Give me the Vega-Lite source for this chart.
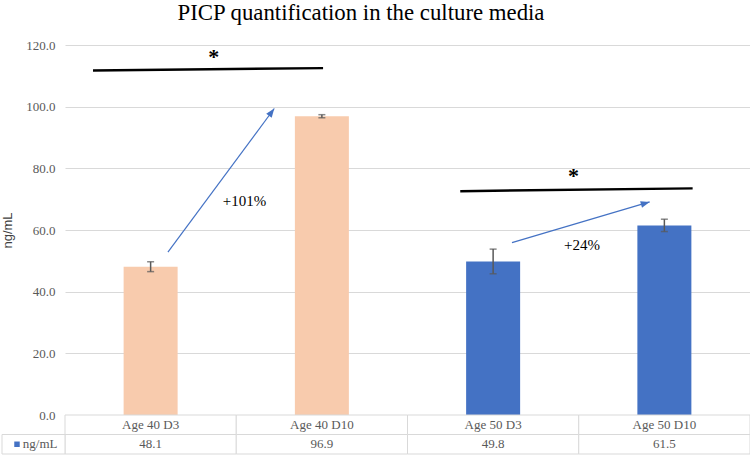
{
  "$schema": "https://vega.github.io/schema/vega-lite/v6.json",
  "padding": {"left": 1, "top": 2, "right": 2, "bottom": 1},
  "background": "white",
  "title": {"text": "PICP quantification in the culture media", "font": "Liberation Serif", "fontSize": 22.8, "fontWeight": "normal", "color": "#000000", "anchor": "start", "dx": 176, "offset": 14},
  "config": {"view": {"stroke": null}},
  "datasets": {
    "bars": [
      {"cat": "Age 40 D3", "age": "Age 40", "value": 48.1, "err": 1.6},
      {"cat": "Age 40 D10", "age": "Age 40", "value": 96.9, "err": 0.5},
      {"cat": "Age 50 D3", "age": "Age 50", "value": 49.8, "err": 4.0},
      {"cat": "Age 50 D10", "age": "Age 50", "value": 61.5, "err": 2.0}
    ],
    "lines": [
      {"x1": 0.1635, "y1": 111.7, "x2": 1.507, "y2": 112.5},
      {"x1": 2.308, "y1": 72.6, "x2": 3.665, "y2": 73.5}
    ],
    "arrows": [
      {"id": "a1", "x1": 0.601, "y1": 52.8, "x2": 1.222, "y2": 99.4},
      {"id": "a2", "x1": 2.610, "y1": 55.9, "x2": 3.414, "y2": 69.1}
    ],
    "stars": [
      {"x": 0.868, "y": 116.4},
      {"x": 2.970, "y": 77.8}
    ],
    "pct": [
      {"x": 1.048, "y": 69.3, "label": "+101%"},
      {"x": 3.019, "y": 55.2, "label": "+24%"}
    ],
    "legend": [{"label": "ng/mL"}]
  },
  "bounds": "flush",
  "spacing": 0,
  "vconcat": [
    {
      "width": 685,
      "height": 370,
      "resolve": {"scale": {"x": "independent"}},
      "layer": [
        {
          "data": {"name": "bars"},
          "mark": {"type": "bar", "width": 54},
          "encoding": {
            "x": {"field": "cat", "type": "nominal", "sort": null, "scale": {"paddingInner": 0, "paddingOuter": 0}, "axis": null},
            "y": {"field": "value", "type": "quantitative", "title": "ng/mL", "scale": {"domain": [0, 120], "nice": false},
              "axis": {"values": [0, 20, 40, 60, 80, 100, 120], "format": ".1f", "labelFont": "Liberation Serif", "labelFontSize": 13, "labelColor": "#595959", "labelPadding": 10, "domain": false, "ticks": false, "gridColor": "#D9D9D9", "titleFont": "Liberation Sans", "titleFontSize": 13, "titleFontWeight": "normal", "titleColor": "#404040", "titlePadding": 11}},
            "color": {"field": "age", "type": "nominal", "scale": {"domain": ["Age 40", "Age 50"], "range": ["#F8CBAD", "#4472C4"]}, "legend": null}
          }
        },
        {
          "data": {"name": "bars"},
          "mark": {"type": "errorbar", "color": "#595959", "thickness": 1.5, "ticks": {"size": 7}},
          "encoding": {
            "x": {"field": "cat", "type": "nominal", "sort": null, "scale": {"paddingInner": 0, "paddingOuter": 0}, "axis": null},
            "y": {"field": "value", "type": "quantitative", "title": "ng/mL"},
            "yError": {"field": "err"}
          }
        },
        {
          "data": {"name": "lines"},
          "mark": {"type": "rule", "strokeWidth": 2.5, "color": "#000000"},
          "encoding": {
            "x": {"field": "x1", "type": "quantitative", "scale": {"domain": [0, 4], "nice": false, "zero": false}, "axis": null},
            "x2": {"field": "x2"},
            "y": {"field": "y1", "type": "quantitative", "title": "ng/mL"},
            "y2": {"field": "y2"}
          }
        },
        {
          "data": {"name": "arrows"},
          "mark": {"type": "rule", "strokeWidth": 1.2, "color": "#4472C4"},
          "encoding": {
            "x": {"field": "x1", "type": "quantitative", "scale": {"domain": [0, 4], "nice": false, "zero": false}, "axis": null},
            "x2": {"field": "x2"},
            "y": {"field": "y1", "type": "quantitative", "title": "ng/mL"},
            "y2": {"field": "y2"}
          }
        },
        {
          "data": {"name": "arrows"},
          "transform": [{"filter": "datum.id === 'a1'"}],
          "mark": {"type": "point", "shape": "M0,0L-0.38,1L0.38,1Z", "filled": true, "opacity": 1, "color": "#4472C4", "size": 320, "angle": 36.4},
          "encoding": {
            "x": {"field": "x2", "type": "quantitative", "scale": {"domain": [0, 4], "nice": false, "zero": false}, "axis": null},
            "y": {"field": "y2", "type": "quantitative", "title": "ng/mL"}
          }
        },
        {
          "data": {"name": "arrows"},
          "transform": [{"filter": "datum.id === 'a2'"}],
          "mark": {"type": "point", "shape": "M0,0L-0.38,1L0.38,1Z", "filled": true, "opacity": 1, "color": "#4472C4", "size": 320, "angle": 73.6},
          "encoding": {
            "x": {"field": "x2", "type": "quantitative", "scale": {"domain": [0, 4], "nice": false, "zero": false}, "axis": null},
            "y": {"field": "y2", "type": "quantitative", "title": "ng/mL"}
          }
        },
        {
          "data": {"name": "stars"},
          "mark": {"type": "text", "text": "*", "font": "Liberation Serif", "fontSize": 22, "fontWeight": "bold", "color": "#000000", "align": "center", "baseline": "alphabetic", "dy": 8},
          "encoding": {
            "x": {"field": "x", "type": "quantitative", "scale": {"domain": [0, 4], "nice": false, "zero": false}, "axis": null},
            "y": {"field": "y", "type": "quantitative", "title": "ng/mL"}
          }
        },
        {
          "data": {"name": "pct"},
          "mark": {"type": "text", "font": "Liberation Serif", "fontSize": 15, "color": "#000000", "align": "center", "baseline": "middle"},
          "encoding": {
            "x": {"field": "x", "type": "quantitative", "scale": {"domain": [0, 4], "nice": false, "zero": false}, "axis": null},
            "y": {"field": "y", "type": "quantitative", "title": "ng/mL"},
            "text": {"field": "label"}
          }
        }
      ]
    },
    {
      "width": 685,
      "height": 39,
      "resolve": {"scale": {"x": "independent"}},
      "layer": [
        {
          "data": {"name": "bars"},
          "mark": {"type": "rect", "fill": "white", "stroke": "#D9D9D9", "strokeWidth": 1},
          "encoding": {
            "x": {"field": "cat", "type": "nominal", "sort": null, "scale": {"paddingInner": 0, "paddingOuter": 0}, "axis": null},
            "y": {"datum": "h", "type": "nominal", "scale": {"domain": ["h", "v"], "paddingInner": 0, "paddingOuter": 0}, "axis": null}
          }
        },
        {
          "data": {"name": "bars"},
          "mark": {"type": "rect", "fill": "white", "stroke": "#D9D9D9", "strokeWidth": 1},
          "encoding": {
            "x": {"field": "cat", "type": "nominal", "sort": null, "scale": {"paddingInner": 0, "paddingOuter": 0}, "axis": null},
            "y": {"datum": "v", "type": "nominal", "axis": null}
          }
        },
        {
          "data": {"name": "bars"},
          "mark": {"type": "text", "font": "Liberation Serif", "fontSize": 13, "color": "#595959", "align": "center", "baseline": "middle"},
          "encoding": {
            "x": {"field": "cat", "type": "nominal", "sort": null, "scale": {"paddingInner": 0, "paddingOuter": 0}, "axis": null},
            "y": {"datum": "h", "type": "nominal", "axis": null},
            "text": {"field": "cat"}
          }
        },
        {
          "data": {"name": "bars"},
          "mark": {"type": "text", "font": "Liberation Serif", "fontSize": 13, "color": "#595959", "align": "center", "baseline": "middle"},
          "encoding": {
            "x": {"field": "cat", "type": "nominal", "sort": null, "scale": {"paddingInner": 0, "paddingOuter": 0}, "axis": null},
            "y": {"datum": "v", "type": "nominal", "axis": null},
            "text": {"field": "value", "type": "quantitative", "format": ".1f"}
          }
        },
        {
          "data": {"name": "legend"},
          "mark": {"type": "rect", "fill": "white", "stroke": "#D9D9D9", "strokeWidth": 1},
          "encoding": {
            "x": {"datum": 0, "type": "quantitative", "scale": {"domain": [0, 1], "range": [-63, 0]}, "axis": null},
            "x2": {"datum": 1},
            "y": {"datum": "v", "type": "nominal", "axis": null}
          }
        },
        {
          "data": {"name": "legend"},
          "mark": {"type": "point", "shape": "square", "filled": true, "opacity": 1, "color": "#4472C4", "size": 30},
          "encoding": {
            "x": {"datum": 0.238, "type": "quantitative", "scale": {"domain": [0, 1], "range": [-63, 0]}, "axis": null},
            "y": {"datum": "v", "type": "nominal", "axis": null}
          }
        },
        {
          "data": {"name": "legend"},
          "mark": {"type": "text", "font": "Liberation Serif", "fontSize": 13, "color": "#595959", "align": "left", "baseline": "middle"},
          "encoding": {
            "x": {"datum": 0.33, "type": "quantitative", "scale": {"domain": [0, 1], "range": [-63, 0]}, "axis": null},
            "y": {"datum": "v", "type": "nominal", "axis": null},
            "text": {"field": "label"}
          }
        }
      ]
    }
  ]
}
